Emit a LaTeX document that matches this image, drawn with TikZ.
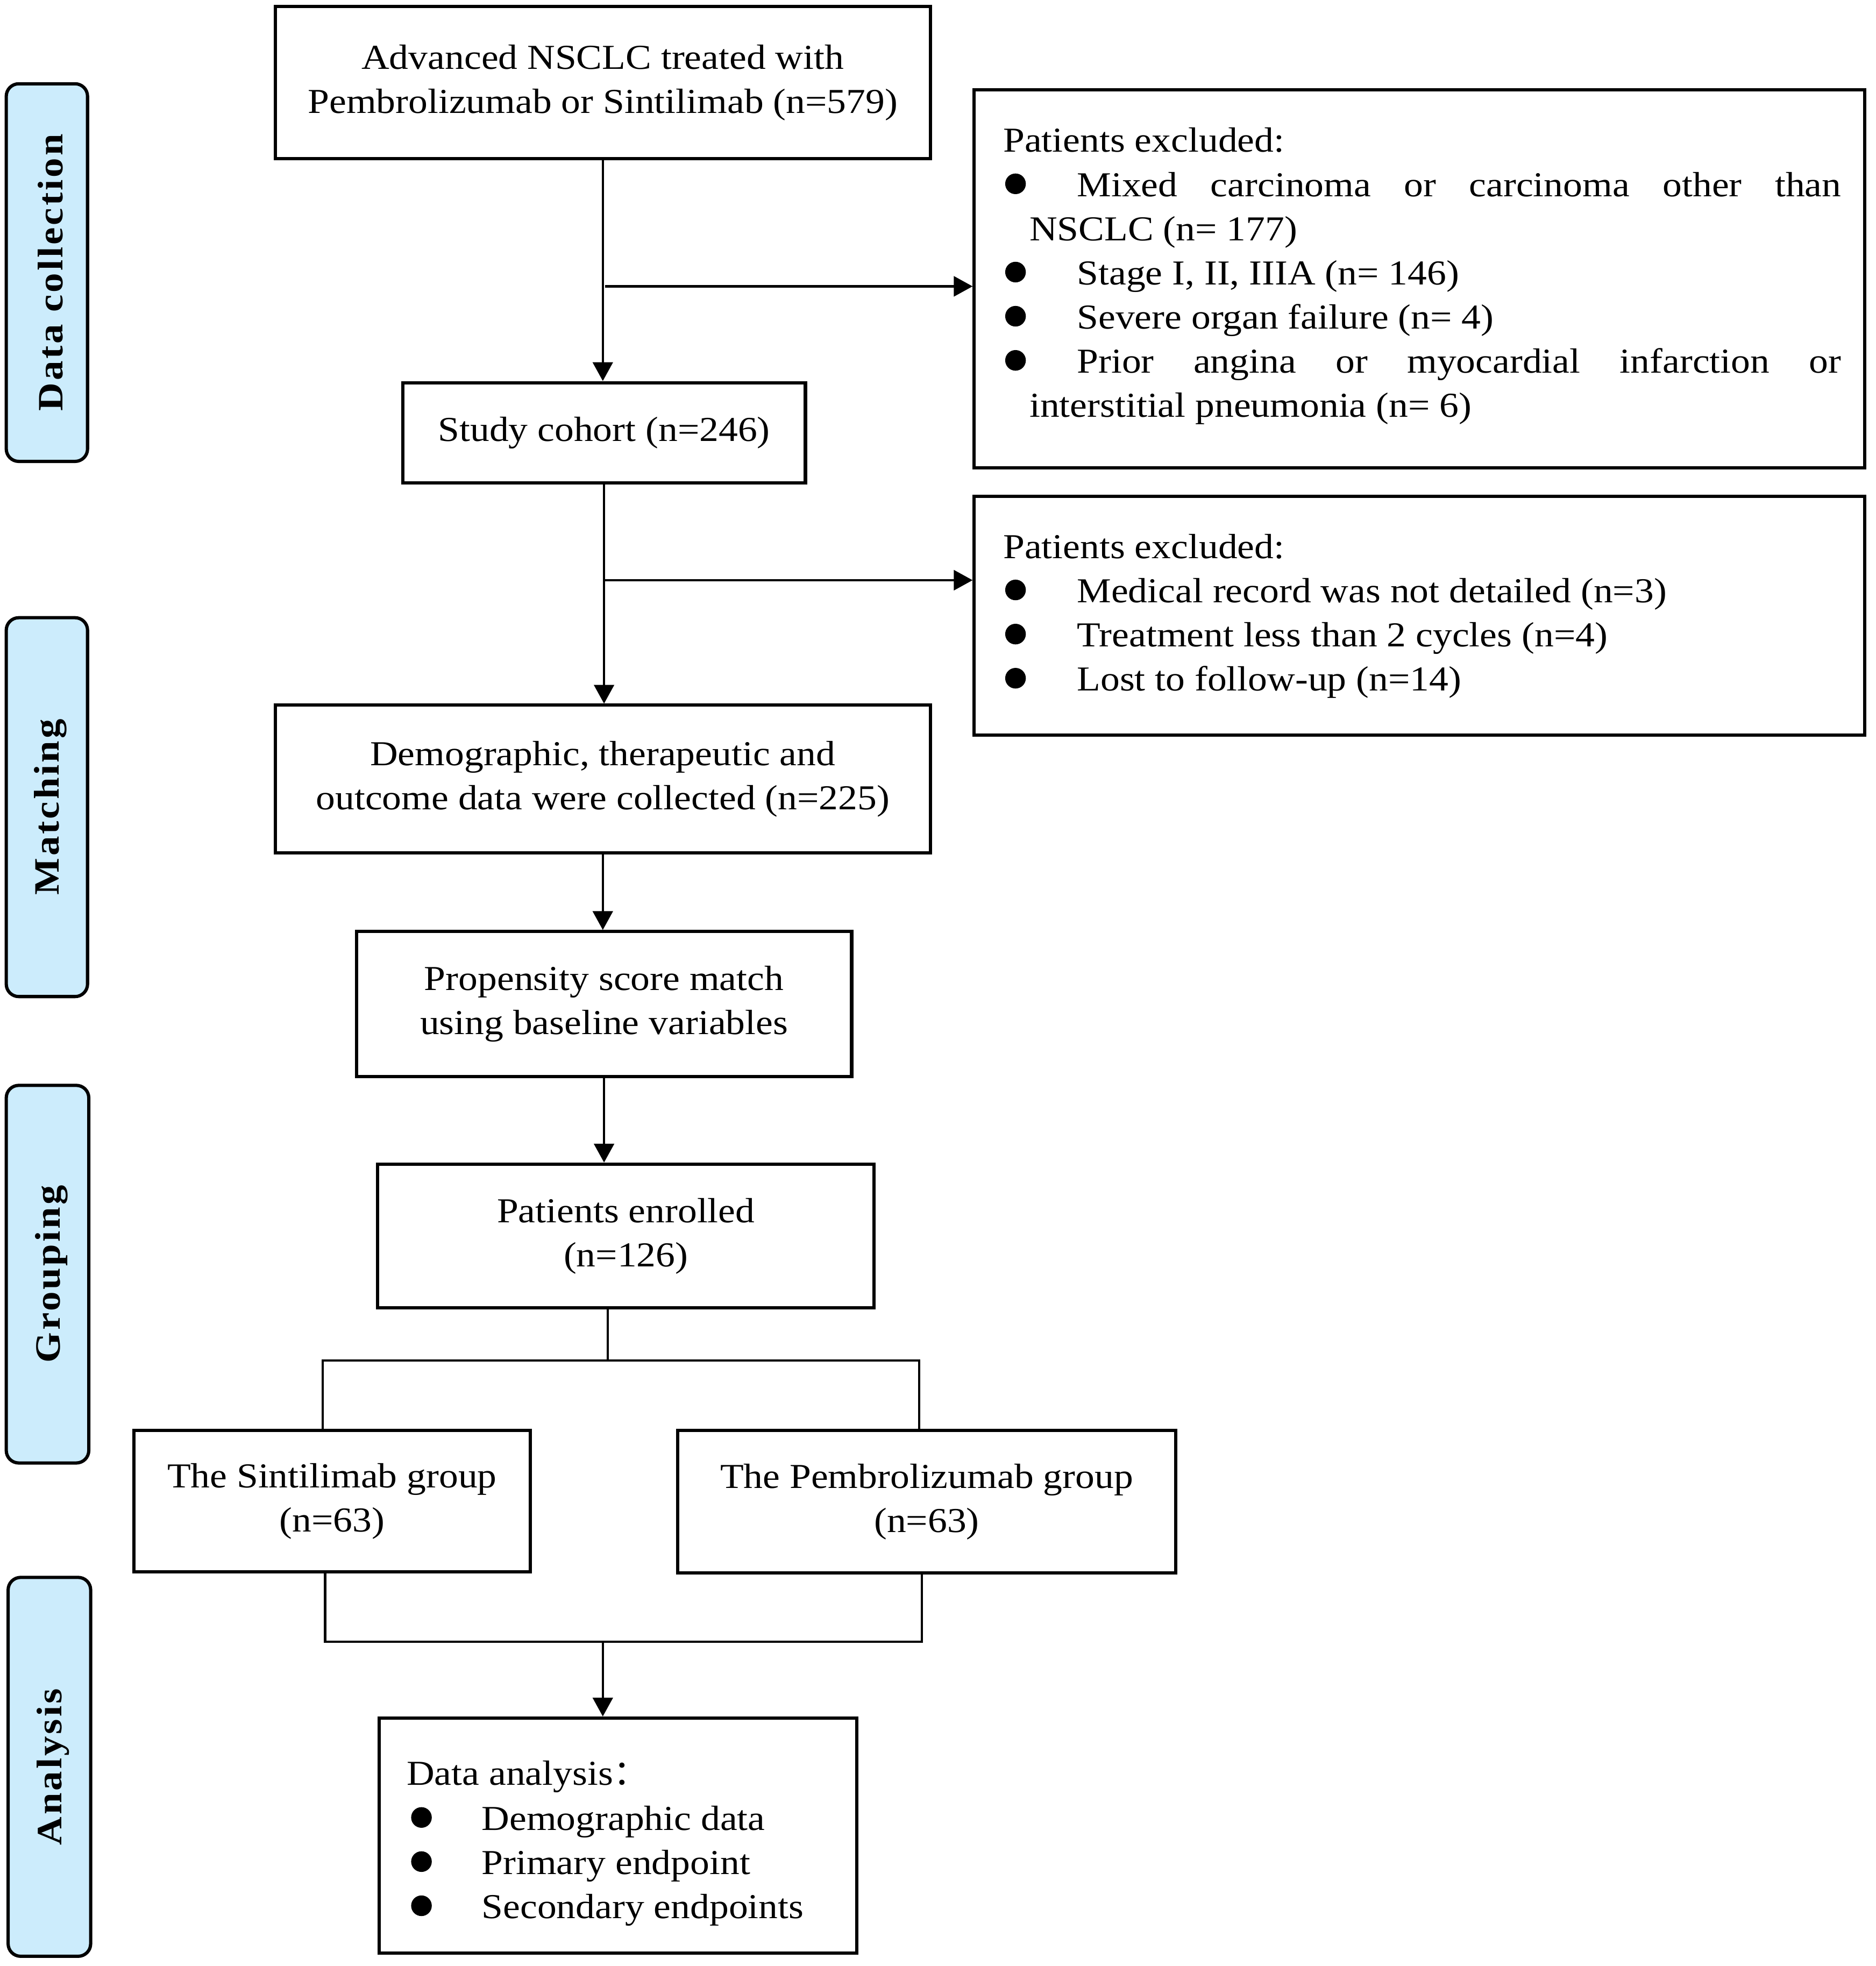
\documentclass[tikz,border=0pt]{standalone}
\usepackage{fontspec}
\setmainfont{Liberation Serif}[FakeStretch=1.1]
\newfontfamily\cjkfont{Noto Sans CJK SC}
\newfontfamily\labfont{Liberation Serif}[FakeStretch=1.1,LetterSpace=6]
\usetikzlibrary{arrows.meta}
\definecolor{lblue}{RGB}{204,236,252}
\newcommand{\mainsz}{\fontsize{28}{35.3}\selectfont}
\newcommand{\labsz}{\fontsize{28.5}{34}\selectfont}
\newcommand{\sidetext}[1]{\hspace{6pt}\rotatebox{90}{#1}}
\begin{document}
\begin{tikzpicture}[x=1pt,y=-1pt,
  box/.style={draw,line width=2.6pt,inner sep=0pt,align=center,font=\mainsz},
  side/.style={draw,line width=2.6pt,fill=lblue,rounded corners=10pt,inner sep=0pt,font=\labfont\bfseries\labsz},
  txt/.style={inner sep=0pt,anchor=base west,font=\mainsz},
  bul/.style={circle,fill=black,inner sep=0pt,minimum size=16.5pt},
  conn/.style={line width=1.8pt},
  >={Triangle[length=15pt,width=16pt]}]
\useasboundingbox (0,0) rectangle (1500,1572.3);

% side labels
\node[side,minimum width=65pt,minimum height=302pt] (sdc) at (37.5,218) {\sidetext{Data collection}};
\node[side,minimum width=65pt,minimum height=303pt] (smat) at (37.5,645.5) {\sidetext{Matching}};
\node[side,minimum width=66pt,minimum height=302pt] (sgrp) at (38,1019) {\sidetext{Grouping}};
\node[side,minimum width=66pt,minimum height=303pt] (sana) at (39.5,1413) {\sidetext{Analysis}};

% main boxes
\node[box,minimum width=524pt,minimum height=122pt] (top) at (482,66) {Advanced NSCLC treated with\\Pembrolizumab or Sintilimab (n=579)};
\node[box,minimum width=322pt,minimum height=80pt] (cohort) at (483,346) {Study cohort (n=246)};
\node[box,minimum width=712pt,minimum height=302pt] (ex1) at (1135,223) {};
\node[box,minimum width=712pt,minimum height=191pt] (ex2) at (1135,492.5) {};
\node[box,minimum width=524pt,minimum height=118pt] (demo) at (482,623) {Demographic, therapeutic and\\outcome data were collected (n=225)};
\node[box,minimum width=396pt,minimum height=116pt] (psm) at (483,803) {Propensity score match\\using baseline variables};
\node[box,minimum width=397pt,minimum height=115pt] (enr) at (500.5,988.5) {Patients enrolled\\(n=126)};
\node[box,minimum width=317pt,minimum height=113pt] (sint) at (265.5,1200.5) {The Sintilimab group\\(n=63)};
\node[box,minimum width=398pt,minimum height=114pt] (pemb) at (741,1201) {The Pembrolizumab group\\(n=63)};
\node[box,minimum width=382pt,minimum height=188pt] (ana) at (494,1468) {};

% exclusion box 1 text
\node[txt] (e1t) at (802,121.7) {Patients excluded:};
\node[bul] (e1b1) at (812,147) {};
\node[txt] (e1l1) at (861,157) {\makebox[611pt][s]{Mixed carcinoma or carcinoma other than}};
\node[txt] (e1l2) at (823,192.3) {NSCLC (n= 177)};
\node[bul] (e1b2) at (812,217.6) {};
\node[txt] (e1l3) at (861,227.6) {Stage I, II, IIIA (n= 146)};
\node[bul] (e1b3) at (812,252.9) {};
\node[txt] (e1l4) at (861,262.9) {Severe organ failure (n= 4)};
\node[bul] (e1b4) at (812,288.2) {};
\node[txt] (e1l5) at (861,298.2) {\makebox[611pt][s]{Prior angina or myocardial infarction or}};
\node[txt] (e1l6) at (823,333.5) {interstitial pneumonia (n= 6)};

% exclusion box 2 text
\node[txt] (e2t) at (802,446.5) {Patients excluded:};
\node[bul] (e2b1) at (812,471.8) {};
\node[txt] (e2l1) at (861,481.8) {Medical record was not detailed (n=3)};
\node[bul] (e2b2) at (812,507.1) {};
\node[txt] (e2l2) at (861,517.1) {Treatment less than 2 cycles (n=4)};
\node[bul] (e2b3) at (812,542.4) {};
\node[txt] (e2l3) at (861,552.4) {Lost to follow-up (n=14)};

% analysis box text
\node[txt] (at) at (325,1427.5) {Data analysis{\cjkfont ：}};
\node[bul] (ab1) at (337,1453.5) {};
\node[txt] (al1) at (385,1463.5) {Demographic data};
\node[bul] (ab2) at (337,1488.8) {};
\node[txt] (al2) at (385,1498.8) {Primary endpoint};
\node[bul] (ab3) at (337,1524.1) {};
\node[txt] (al3) at (385,1534.1) {Secondary endpoints};

% connectors
\coordinate (b1) at (484,229);
\coordinate (b2) at (483,464);
\draw[conn,->] (top.south) -- (top.south |- cohort.north);
\draw[conn,->] (b1) -- (ex1.west |- b1);
\draw[conn,->] (cohort.south) -- (cohort.south |- demo.north);
\draw[conn,->] (b2) -- (ex2.west |- b2);
\draw[conn,->] (demo.south) -- (demo.south |- psm.north);
\draw[conn,->] (psm.south) -- (psm.south |- enr.north);

\coordinate (j1) at (486,1088);
\coordinate (jl) at (258,1088);
\coordinate (jr) at (735,1088);
\draw[conn] (j1 |- enr.south) -- (j1);
\draw[conn] (jl |- sint.north) -- (jl) -- (jr) -- (jr |- pemb.north);

\coordinate (k1) at (482,1313);
\coordinate (kl) at (260,1313);
\coordinate (kr) at (737,1313);
\draw[conn] (kl |- sint.south) -- (kl) -- (kr) -- (kr |- pemb.south);
\draw[conn,->] (k1) -- (k1 |- ana.north);
\end{tikzpicture}
\end{document}
